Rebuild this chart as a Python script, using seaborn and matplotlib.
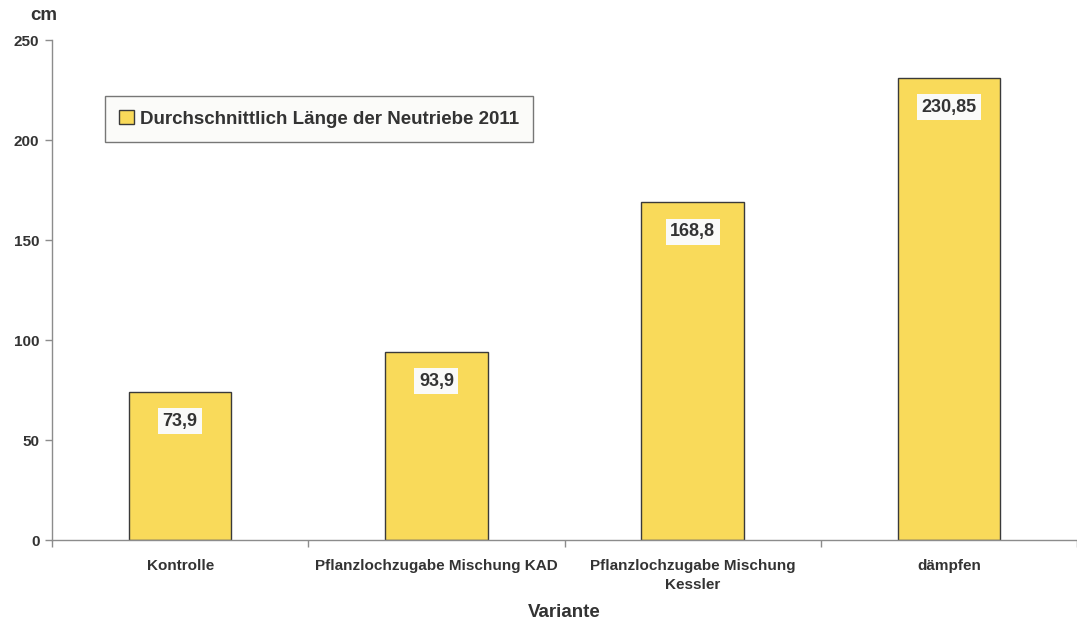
import matplotlib
matplotlib.use("Agg")
import matplotlib.pyplot as plt
import pandas as pd
import seaborn as sns

# data
categories = ["Kontrolle", "Pflanzlochzugabe Mischung KAD",
              "Pflanzlochzugabe Mischung\nKessler", "dämpfen"]
values = [73.9, 93.9, 168.8, 230.85]
value_labels = ["73,9", "93,9", "168,8", "230,85"]
series_name = "Durchschnittlich Länge der Neutriebe 2011"

BAR_COLOR = "#F9DA5A"
TEXT_COLOR = "#333333"
GRID_GRAY = "#8c8c8c"

sns.set_theme(style="white")
plt.rcParams["font.family"] = ["Liberation Sans", "DejaVu Sans"]
plt.rcParams["font.weight"] = "bold"

df = pd.DataFrame({"Variante": categories, "cm": values})

fig = plt.figure(figsize=(10.77, 6.26), dpi=100)
ax = fig.add_axes([52 / 1077, 86 / 626, 1 - 52 / 1077, 500 / 626])

sns.barplot(data=df, x="Variante", y="cm", color=BAR_COLOR, saturation=1,
            width=0.4, edgecolor="#3a3a3a", linewidth=1.0,
            label=series_name, ax=ax)

for i, (v, txt) in enumerate(zip(values, value_labels)):
    ax.annotate(txt, (i, v), xytext=(0, -21), textcoords="offset points",
                ha="center", va="center", fontsize=13, fontweight="bold",
                color=TEXT_COLOR,
                bbox=dict(boxstyle="square,pad=0.25", fc="#fafaf8", ec="none"))

ax.set_ylim(0, 250)
ax.set_xlim(-0.5, len(categories) - 0.5)
ax.set_yticks([0, 50, 100, 150, 200, 250])
ax.tick_params(axis="y", labelsize=11, colors=GRID_GRAY, labelcolor=TEXT_COLOR,
               length=5, width=1, left=True, direction="out", pad=4)
ax.tick_params(axis="x", which="major", length=0, labelsize=11,
               labelcolor=TEXT_COLOR, pad=14)
ax.set_xticks([i - 0.5 for i in range(len(categories) + 1)], minor=True)
ax.tick_params(axis="x", which="minor", length=5, width=1, color=GRID_GRAY,
               bottom=True, direction="out")
for lbl in ax.get_xticklabels() + ax.get_yticklabels():
    lbl.set_fontweight("bold")
    lbl.set_linespacing(1.45)

for side in ["top", "right"]:
    ax.spines[side].set_visible(False)
for side in ["left", "bottom"]:
    ax.spines[side].set_color(GRID_GRAY)
    ax.spines[side].set_linewidth(1)

ax.set_ylabel("")
ax.set_xlabel("Variante", fontsize=13.5, fontweight="bold", color=TEXT_COLOR,
              labelpad=8)
fig.text(44 / 1077, 1 - 15 / 626, "cm", ha="center", va="center",
         fontsize=13.5, fontweight="bold", color=TEXT_COLOR)

leg = ax.legend(loc="upper left", bbox_to_anchor=(53 / 1025, 1 - 56 / 500),
                frameon=True, fancybox=False, fontsize=13.5,
                handlelength=0.8, handleheight=0.8, handletextpad=0.3,
                borderpad=0.75, borderaxespad=0)
leg.get_frame().set_facecolor("#fafaf8")
leg.get_frame().set_edgecolor("#555555")
leg.get_frame().set_linewidth(1)
for t in leg.get_texts():
    t.set_color(TEXT_COLOR)
    t.set_fontweight("bold")

fig.savefig("out.png", dpi=100)
